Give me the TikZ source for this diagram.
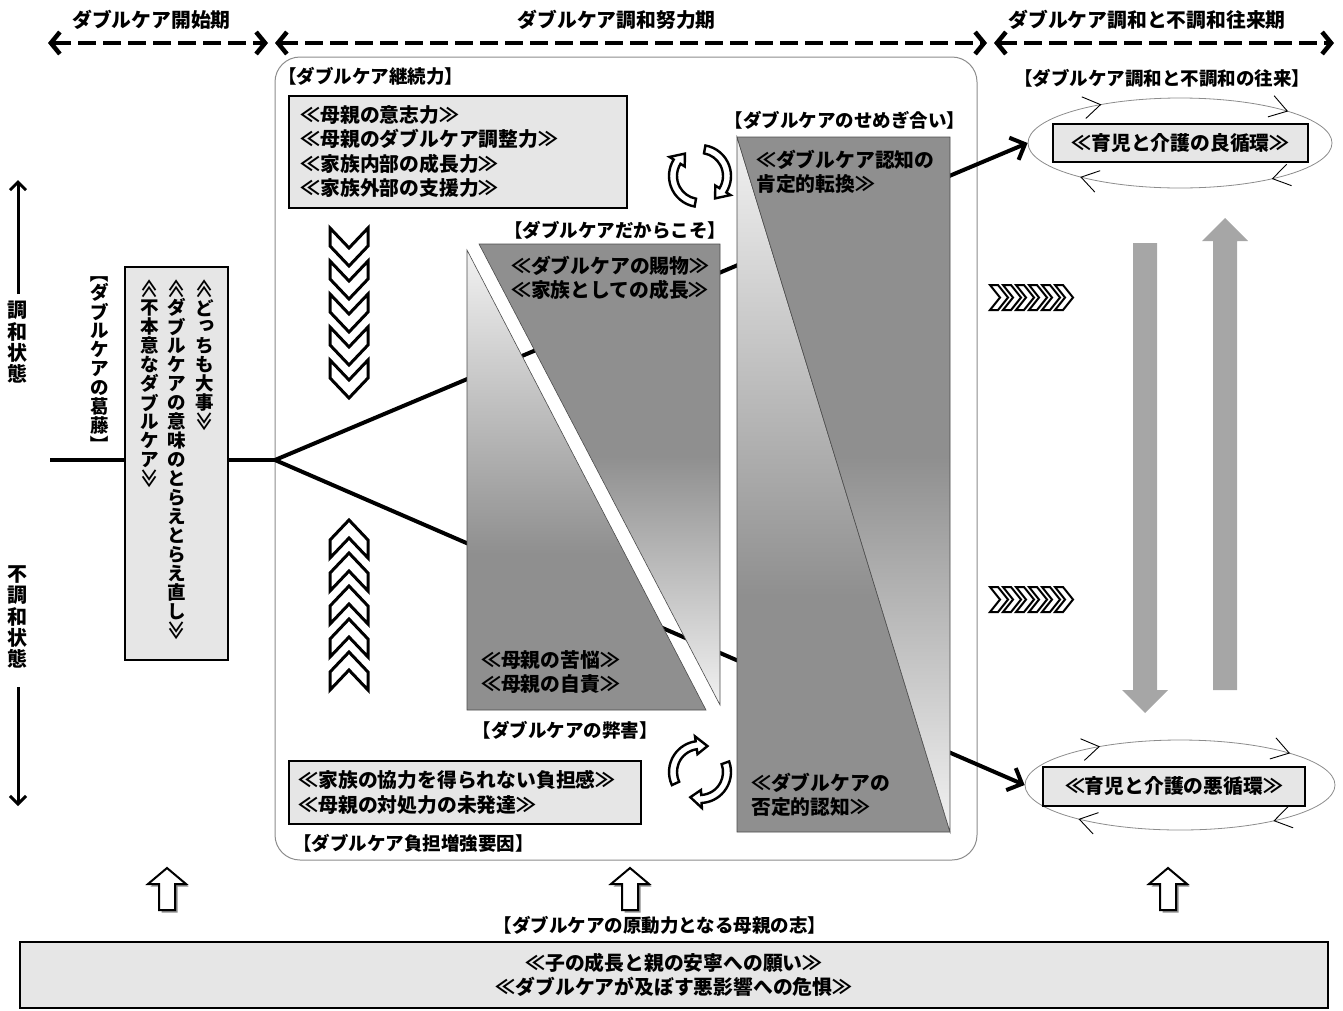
\documentclass[tikz,border=0pt]{standalone}
\usepackage{fontspec}
\setmainfont{Noto Sans CJK JP}
\usepackage{graphicx}
\usepackage{xcolor}
\usetikzlibrary{arrows.meta,shapes.geometric,positioning,decorations.markings}

\definecolor{boxfill}{HTML}{E6E6E6}
\definecolor{lightshade}{HTML}{F2F2F2}
\definecolor{darkshade}{HTML}{8F8F8F}
\definecolor{flowgray}{HTML}{A6A6A6}
\definecolor{framegray}{HTML}{8C8C8C}

\pgfdeclareverticalshading{darkbase}{100bp}{color(0bp)=(darkshade); color(25bp)=(darkshade); color(42bp)=(darkshade); color(75bp)=(lightshade); color(100bp)=(lightshade)}
\pgfdeclareverticalshading{darkcrest}{100bp}{color(0bp)=(lightshade); color(25bp)=(lightshade); color(52bp)=(darkshade); color(75bp)=(darkshade); color(100bp)=(darkshade)}

\newcommand{\jptext}{\bfseries\fontsize{19.8}{24.5}\selectfont}
\newcommand{\jplabel}{\bfseries\fontsize{18.5}{24.5}\selectfont}
% vertical writing, one character per cell
\newlength{\tatepitch}
\setlength{\tatepitch}{19pt}
\newcommand{\tatechar}[1]{\hbox to 19pt{\hss\vbox to \tatepitch{\vss\hbox{#1}\vss}\hss}}
\def\tateloop#1{\ifx\relax#1\else\tatechar{#1}\expandafter\tateloop\fi}
\newcommand{\tate}[1]{\vbox{\offinterlineskip\tateloop#1\relax}}
\newcommand{\tateopen}{\rotatebox{-90}{≪}}
\newcommand{\tateclose}{\rotatebox{-90}{≫}}
\newcommand{\tatelbr}{\rotatebox{-90}{【}}
\newcommand{\taterbr}{\rotatebox{-90}{】}}
\newcommand{\tatesmalltsu}{\raisebox{0.16em}{\kern0.14em っ}}
% one half of a cycle icon: start angle, end angle
\newcommand{\cyclearc}[2]{%
  \draw[cycle-arrow] (#1:31) arc[start angle=#1, end angle=#2, radius=31]
    -- (#2:36) -- (#2+24:27) -- (#2:18) -- (#2:23)
    arc[start angle=#2, end angle=#1, radius=23] -- cycle;}
% small barb on the cycle ellipses
\newcommand{\loopbarb}{\draw[black, line width=0.9pt] (17pt,11pt) -- (0pt,0pt) -- (17pt,-11pt);}

\tikzset{
  every picture/.style = {
    line join = miter,
    node distance = 8pt and 8pt,
  }
  ,
  stagetip/.tip = {Straight Barb[length=9pt, width=22pt]},
  branchtip/.tip = {Straight Barb[length=12pt, width=24pt]},
  statetip/.tip = {Straight Barb[length=8pt, width=16pt]},
  % period arrows on top
  stage-arrow/.style = {
    line width = 4.5,
    dash pattern = on 18pt off 7pt,
    arrows = {stagetip-stagetip}
  }
  ,
  stage-label/.style = {
    font = \jptext,
    inner sep = 0,
    above = 11pt
  }
  ,
  head-label/.style = {
    font = \jplabel,
    inner sep = 0
  }
  ,
  note-text/.style = {
    font = \jptext,
    inner sep = 0,
    align = left,
    anchor = west
  }
  ,
  text-box/.style = {
    draw,
    line width = 1.5,
    fill = boxfill,
    font = \jptext,
    inner sep = 0
  }
  ,
  tate-text/.style = {
    font = {\bfseries\fontsize{18.5}{19}\selectfont},
    inner sep = 0,
    anchor = north
  }
  ,
  tate-axis/.style = {
    font = {\bfseries\fontsize{20}{21}\selectfont\setlength{\tatepitch}{21pt}},
    inner sep = 0,
    anchor = north
  }
  ,
  frame-box/.style = {
    draw = framegray,
    line width = 1,
    rounded corners = 25
  }
  ,
  trunk-line/.style = {line width = 4},
  branch-line/.style = {line width = 4, arrows = {-branchtip}},
  state-arrow/.style = {line width = 3, arrows = {-statetip}},
  triangle-edge/.style = {draw = black!70, line width = 0.6},
  chevron/.style = {draw, line width = 3, fill = white},
  strip-chevron/.style = {draw, line width = 2, fill = white},
  cycle-arrow/.style = {draw, line width = 2.4, fill = white},
  hollow-arrow/.style = {draw, line width = 2, fill = white},
  hollow-shadow/.style = {fill = black!45},
  loop-ellipse/.style = {
    ellipse,
    draw = framegray,
    line width = 0.8,
    postaction = decorate,
    decoration = {markings,
      mark = at position 0.087 with {\loopbarb},
      mark = at position 0.37 with {\loopbarb},
      mark = at position 0.6 with {\loopbarb},
      mark = at position 0.89 with {\loopbarb}}
  }
}

\begin{document}
\begin{tikzpicture}[x=1pt, y=-1pt]
  \useasboundingbox (0,0) rectangle (1343,1010);

  % periods
  \coordinate (startL) at (48,43);
  \coordinate (startR) at (268,43);
  \coordinate (effortL) at (275,43);
  \coordinate (effortR) at (987,43);
  \coordinate (swingL) at (994,43);
  \coordinate (swingR) at (1334,43);
  \draw[stage-arrow] (startL) -- node[stage-label, pos=0.47] (startLabel) {ダブルケア開始期} (startR);
  \draw[stage-arrow] (effortL) -- node[stage-label, pos=0.48] (effortLabel) {ダブルケア調和努力期} (effortR);
  \draw[stage-arrow] (swingL) -- node[stage-label, pos=0.45] (swingLabel) {ダブルケア調和と不調和往来期} (swingR);

  \node[frame-box, minimum width=702, minimum height=803] (effort) at (626,458.5) {};

  % harmony axis
  \node[tate-axis] (harmony) at (18,300) {\tate{調和状態}};
  \node[tate-axis] (disharmony) at (18,564) {\tate{不調和状態}};
  \coordinate (harmonyTip) at (18,180);
  \coordinate (disharmonyTip) at (18,806);
  \draw[state-arrow, shorten <=6pt] (harmony) -- (harmonyTip);
  \draw[state-arrow, shorten <=18pt] (disharmony) -- (disharmonyTip);

  % conflict at the start
  \coordinate (origin) at (50,460);
  \coordinate (split) at (275,460);
  \draw[trunk-line] (origin) -- (split);
  \node[text-box, minimum width=103, minimum height=393] (conflictBox) at (176.5,463.5) {};
  \node[tate-text] (colA) at (205,279) {\tate{\tateopen ど\tatesmalltsu ちも大事\tateclose}};
  \node[tate-text] (colB) at (177,279) {\tate{\tateopen ダブルケアの意味のとらえとらえ直し\tateclose}};
  \node[tate-text] (colC) at (150,279) {\tate{\tateopen 不本意なダブルケア\tateclose}};
  \node[tate-text] (conflictTitle) at (100,264) {\tate{\tatelbr ダブルケアの葛藤\taterbr}};

  % good and bad cycles
  \node[loop-ellipse, minimum width=304, minimum height=90] (good) at (1180,143) {};
  \node[text-box, minimum width=255, minimum height=38] (goodBox) at (1180.5,143) {≪育児と介護の良循環≫};
  \node[loop-ellipse, minimum width=310, minimum height=90] (bad) at (1180,785) {};
  \node[text-box, minimum width=262, minimum height=39] (badBox) at (1174,786.5) {≪育児と介護の悪循環≫};
  \node[head-label] (swingTitle) at (1162,78) {【ダブルケア調和と不調和の往来】};

  \draw[branch-line] (split) -- (good.west);
  \draw[branch-line] (split) -- (bad.west);

  % because of / harm
  \shadedraw[shading=darkbase, triangle-edge] (467,250) -- (467,710) -- (706,710) -- cycle;
  \shadedraw[shading=darkcrest, triangle-edge] (479,244) -- (720,244) -- (720,705) -- cycle;
  % struggle
  \shadedraw[shading=darkbase, triangle-edge] (737,137) -- (737,832) -- (950,832) -- cycle;
  \shadedraw[shading=darkcrest, triangle-edge] (737,137) -- (950,137) -- (950,832) -- cycle;

  \node[note-text] (giftText) at (511,278) {≪ダブルケアの賜物≫\\≪家族としての成長≫};
  \node[note-text] (harmText) at (481,672) {≪母親の苦悩≫\\≪母親の自責≫};
  \node[note-text] (turnText) at (756,172) {≪ダブルケア認知の\\肯定的転換≫};
  \node[note-text] (denyText) at (751,795) {≪ダブルケアの\\否定的認知≫};
  \node[head-label] (giftTitle) at (615,230) {【ダブルケアだからこそ】};
  \node[head-label] (harmTitle) at (565,730) {【ダブルケアの弊害】};
  \node[head-label] (clashTitle) at (845,120) {【ダブルケアのせめぎ合い】};

  % continuing power and burden
  \node[head-label, anchor=west] (keepTitle) at (278,76) {【ダブルケア継続力】};
  \node[text-box, anchor=north west, text width=314, inner xsep=12, minimum height=112, align=left] (keepBox) at (288,95)
    {≪母親の意志力≫\\≪母親のダブルケア調整力≫\\≪家族内部の成長力≫\\≪家族外部の支援力≫};
  \node[text-box, anchor=north west, text width=332, inner xsep=10, minimum height=63, align=left] (burdenBox) at (288,760)
    {≪家族の協力を得られない負担感≫\\≪母親の対処力の未発達≫};
  \node[head-label, anchor=west] (burdenTitle) at (293,843) {【ダブルケア負担増強要因】};

  \foreach \y in {228,261,...,360}
    \draw[chevron] (330,\y) -- ++(19,20) -- ++(19,-20) -- ++(0,18) -- ++(-19,20) -- ++(-19,-20) -- cycle;
  \foreach \y in {520,553,...,652}
    \draw[chevron] (330,\y+20) -- ++(19,-20) -- ++(19,20) -- ++(0,18) -- ++(-19,-20) -- ++(-19,20) -- cycle;

  \begin{scope}[shift={(700,176)}]
    \cyclearc{100}{212}
    \cyclearc{280}{392}
  \end{scope}
  \begin{scope}[shift={(700,772)}]
    \cyclearc{155}{262}
    \cyclearc{340}{447}
  \end{scope}

  % toward the cycles
  \foreach \x in {990,1003,...,1055} {
    \draw[strip-chevron] (\x,285) -- ++(8,0) -- ++(10,12.5) -- ++(-10,12.5) -- ++(-8,0) -- ++(10,-12.5) -- cycle;
    \draw[strip-chevron] (\x,587) -- ++(8,0) -- ++(10,12.5) -- ++(-10,12.5) -- ++(-8,0) -- ++(10,-12.5) -- cycle;
  }
  \fill[flowgray] (1133,243) -- (1157,243) -- (1157,690) -- (1168,690) -- (1145,713) -- (1122,690) -- (1133,690) -- cycle;
  \fill[flowgray] (1213,690) -- (1237,690) -- (1237,241) -- (1248,241) -- (1225,218) -- (1202,241) -- (1213,241) -- cycle;

  % mother's will
  \node[text-box, minimum width=1308, minimum height=66, align=center] (wish) at (674,975)
    {≪子の成長と親の安寧への願い≫\\≪ダブルケアが及ぼす悪影響への危惧≫};
  \node[head-label] (wishTitle) at (660,925) {【ダブルケアの原動力となる母親の志】};
  \foreach \c in {167,630,1168} {
    \fill[hollow-shadow, shift={(2.5,2.5)}] (\c,868) -- (\c+19,884) -- (\c+8,884) -- (\c+8,910) -- (\c-8,910) -- (\c-8,884) -- (\c-19,884) -- cycle;
    \draw[hollow-arrow] (\c,868) -- (\c+19,884) -- (\c+8,884) -- (\c+8,910) -- (\c-8,910) -- (\c-8,884) -- (\c-19,884) -- cycle;
  }
\end{tikzpicture}
\end{document}
